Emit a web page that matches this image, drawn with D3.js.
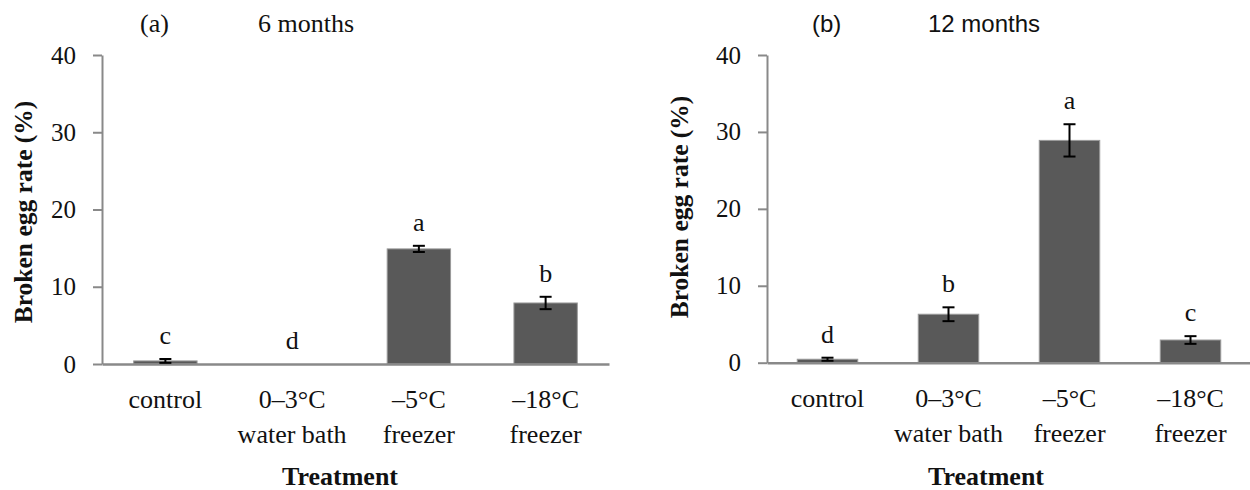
<!DOCTYPE html>
<html>
<head>
<meta charset="utf-8">
<script src="https://cdn.jsdelivr.net/npm/d3@7"></script>
<style>
  html, body { margin: 0; padding: 0; background: #ffffff; }
  svg { display: block; }
</style>
</head>
<body>
<svg id="chart" width="1250" height="490"></svg>
<script>
// ---- data ----
const categories = [["control"], ["0–3°C", "water bath"], ["–5°C", "freezer"], ["–18°C", "freezer"]];
const yTicks = [0, 10, 20, 30, 40];

const values6 = [0.4, 0, 14.9, 7.9];
const errors6 = [0.25, 0, 0.4, 0.8];
const letters6 = ["c", "d", "a", "b"];

const values12 = [0.45, 6.3, 28.9, 2.95];
const errors12 = [0.2, 0.9, 2.1, 0.5];
const letters12 = ["d", "b", "a", "c"];

const panelTags = ["(a)", "(b)"];
const panelTitles = ["6 months", "12 months"];
const yLabel = "Broken egg rate (%)";
const xLabel = "Treatment";

// ---- drawing ----
const svg = d3.select("#chart");
const serif = "'Liberation Serif', 'Times New Roman', serif";
const sans = "'Liberation Sans', Arial, sans-serif";
const axisColor = "#898989";
const barColor = "#595959";

function drawPanel(opt) {
  const g = svg.append("g");
  const x = d3.scaleBand()
    .domain(categories.map((d, i) => i))
    .range([opt.x0, opt.x1])
    .paddingInner(0.5)
    .paddingOuter(0.25);
  const y = d3.scaleLinear().domain([0, 40]).range([opt.y0, opt.y1]);

  // y axis
  const yAxis = g.append("g")
    .attr("transform", `translate(${opt.x0},0)`)
    .call(d3.axisLeft(y).tickValues(yTicks).tickSize(9).tickPadding(17).tickSizeOuter(0));
  yAxis.select(".domain").attr("stroke", axisColor).attr("stroke-width", 2);
  yAxis.selectAll(".tick line").attr("stroke", axisColor).attr("stroke-width", 2);
  yAxis.selectAll(".tick text")
    .attr("font-family", serif).attr("font-size", 25).attr("fill", "#111");

  // bars
  const idx = d3.range(categories.length);
  g.selectAll("rect.bar").data(idx).join("rect")
    .attr("class", "bar")
    .attr("x", i => x(i))
    .attr("width", x.bandwidth())
    .attr("y", i => y(opt.values[i]))
    .attr("height", i => y(0) - y(opt.values[i]))
    .attr("fill", barColor)
    .attr("stroke", "#9a9a9a")
    .attr("stroke-width", 1);

  // x axis baseline
  const xAxis = g.append("g")
    .attr("transform", `translate(0,${opt.y0})`)
    .call(d3.axisBottom(x).tickSize(0).tickFormat(""));
  xAxis.select(".domain").attr("stroke", axisColor).attr("stroke-width", 2.5);

  // error bars
  const eb = g.selectAll("g.err").data(idx.filter(i => opt.errors[i] > 0)).join("g").attr("class", "err");
  const cx = i => x(i) + x.bandwidth() / 2;
  eb.append("line")
    .attr("x1", cx).attr("x2", cx)
    .attr("y1", i => y(opt.values[i] + opt.errors[i]))
    .attr("y2", i => y(opt.values[i] - opt.errors[i]))
    .attr("stroke", "#000").attr("stroke-width", 2);
  [1, -1].forEach(s => {
    eb.append("line")
      .attr("x1", i => cx(i) - 6).attr("x2", i => cx(i) + 6)
      .attr("y1", i => y(opt.values[i] + s * opt.errors[i]))
      .attr("y2", i => y(opt.values[i] + s * opt.errors[i]))
      .attr("stroke", "#000").attr("stroke-width", 2);
  });

  // significance letters
  g.selectAll("text.letter").data(idx).join("text")
    .attr("class", "letter")
    .attr("x", cx)
    .attr("y", i => y(opt.values[i] + opt.errors[i]) - 15)
    .attr("text-anchor", "middle")
    .attr("font-family", serif).attr("font-size", 26).attr("fill", "#111")
    .text(i => opt.letters[i]);

  // category labels
  const cl = g.selectAll("text.cat").data(idx).join("text")
    .attr("class", "cat")
    .attr("text-anchor", "middle")
    .attr("font-family", serif).attr("font-size", 26).attr("fill", "#111");
  cl.selectAll("tspan").data(i => categories[i].map(t => ({ t, i }))).join("tspan")
    .attr("x", d => cx(d.i))
    .attr("y", (d, k) => opt.y0 + 44 + k * 35)
    .text(d => d.t);

  // axis titles
  g.append("text")
    .attr("x", opt.xTitleX).attr("y", 485)
    .attr("text-anchor", "middle")
    .attr("font-family", serif).attr("font-weight", "bold").attr("font-size", 26).attr("fill", "#111")
    .text(xLabel);
  g.append("text")
    .attr("transform", `translate(${opt.yTitleX},${opt.yTitleY}) rotate(-90)`)
    .attr("text-anchor", "middle")
    .attr("dominant-baseline", "central")
    .attr("font-family", serif).attr("font-weight", "bold").attr("font-size", 25.5).attr("fill", "#111")
    .text(yLabel);

  // panel titles
  g.append("text").attr("x", opt.tagX).attr("y", 32)
    .attr("font-family", opt.titleFont).attr("font-size", opt.titleSize).attr("fill", "#111")
    .text(opt.tag);
  g.append("text").attr("x", opt.titleX).attr("y", 32)
    .attr("font-family", opt.titleFont).attr("font-size", opt.titleSize).attr("fill", "#111")
    .text(opt.title);
}

drawPanel({
  x0: 102, x1: 609, y0: 364, y1: 55,
  values: values6, errors: errors6, letters: letters6,
  xTitleX: 340, yTitleX: 23, yTitleY: 212,
  tag: panelTags[0], title: panelTitles[0],
  tagX: 140, titleX: 258, titleFont: serif, titleSize: 26
});
drawPanel({
  x0: 767, x1: 1251, y0: 362.7, y1: 55,
  values: values12, errors: errors12, letters: letters12,
  xTitleX: 986, yTitleX: 679, yTitleY: 207,
  tag: panelTags[1], title: panelTitles[1],
  tagX: 812, titleX: 928, titleFont: sans, titleSize: 24
});
</script>
</body>
</html>
